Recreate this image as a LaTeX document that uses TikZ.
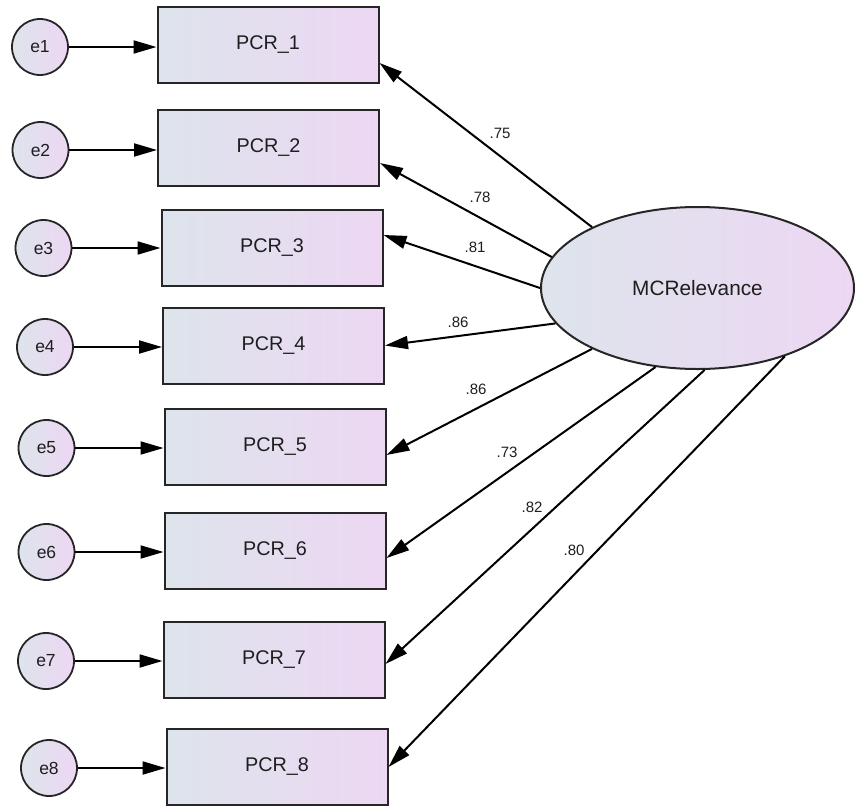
\documentclass[tikz,border=0pt]{standalone}
\usepackage{fontspec}
\setmainfont{Liberation Sans}
\usetikzlibrary{shapes.geometric,arrows.meta}
\definecolor{lc}{HTML}{DDE4EC}
\definecolor{rc}{HTML}{EDD7F3}
\definecolor{txt}{HTML}{1E1E1E}
\tikzset{
  obsbox/.style={draw=black!85, line width=2pt, rectangle, minimum width=221pt, minimum height=76pt, inner sep=0pt, left color=lc, right color=rc, text=txt, font=\fontsize{19.8}{21}\selectfont},
  errc/.style={draw=black!85, line width=1.8pt, circle, minimum size=56pt, inner sep=0pt, left color=lc, right color=rc, text=txt, font=\fontsize{17.5}{19}\selectfont},
  latent/.style={draw=black!85, line width=2pt, ellipse, minimum width=313pt, minimum height=162pt, inner sep=0pt, left color=lc, right color=rc, text=txt, font=\fontsize{20.8}{22}\selectfont},
  arr/.style={line width=2pt, -{Triangle[length=23pt,width=13pt]}},
  lab/.style={text=txt, font=\fontsize{15}{16}\selectfont, inner sep=0pt}
}
\begin{document}
\begin{tikzpicture}[x=1pt,y=-1pt]
\useasboundingbox (0,0) rectangle (856,806);
% boxes
\node[obsbox] (p1) at (268,45) {PCR\_1};
\node[obsbox] (p2) at (268.5,147.5) {PCR\_2};
\node[obsbox] (p3) at (272,247.5) {PCR\_3};
\node[obsbox] (p4) at (273.5,345.5) {PCR\_4};
\node[obsbox] (p5) at (275,447) {PCR\_5};
\node[obsbox] (p6) at (275,551) {PCR\_6};
\node[obsbox] (p7) at (274,660) {PCR\_7};
\node[obsbox] (p8) at (277,767) {PCR\_8};
% error circles
\node[errc] (e1) at (40,47) {e1};
\node[errc] (e2) at (40.5,150) {e2};
\node[errc] (e3) at (43.5,248) {e3};
\node[errc] (e4) at (45,347) {e4};
\node[errc] (e5) at (46.5,448) {e5};
\node[errc] (e6) at (46.5,552) {e6};
\node[errc] (e7) at (46,661) {e7};
\node[errc] (e8) at (49,768) {e8};
% latent
\node[latent] (mc) at (697.5,288) {MCRelevance};
% error arrows
\foreach \i in {1,...,8}{
  \draw[arr] (e\i.east) -- (e\i.east -| p\i.west);
}
% loadings
\draw[arr] (mc.150.8) -- ([yshift=-18pt]p1.east);
\draw[arr] (mc.168.3) -- ([yshift=-15.5pt]p2.east);
\draw[arr] (mc.180) -- ([yshift=12.5pt]p3.east);
\draw[arr] (mc.194.2) -- (p4.east);
\draw[arr] (mc.210.4) -- ([yshift=-8pt]p5.east);
\draw[arr] (mc.242) -- ([yshift=-7pt]p6.east);
\draw[arr] (mc.275.2) -- ([yshift=-4pt]p7.east);
\draw[arr] (mc.322.9) -- (p8.east);
% labels
\node[lab] (l1) at (500,133) {.75};
\node[lab] (l2) at (480,197) {.78};
\node[lab] (l3) at (475,247) {.81};
\node[lab] (l4) at (458,322) {.86};
\node[lab] (l5) at (476,389) {.86};
\node[lab] (l6) at (507,452) {.73};
\node[lab] (l7) at (532,507) {.82};
\node[lab] (l8) at (574,550) {.80};
\end{tikzpicture}
\end{document}
